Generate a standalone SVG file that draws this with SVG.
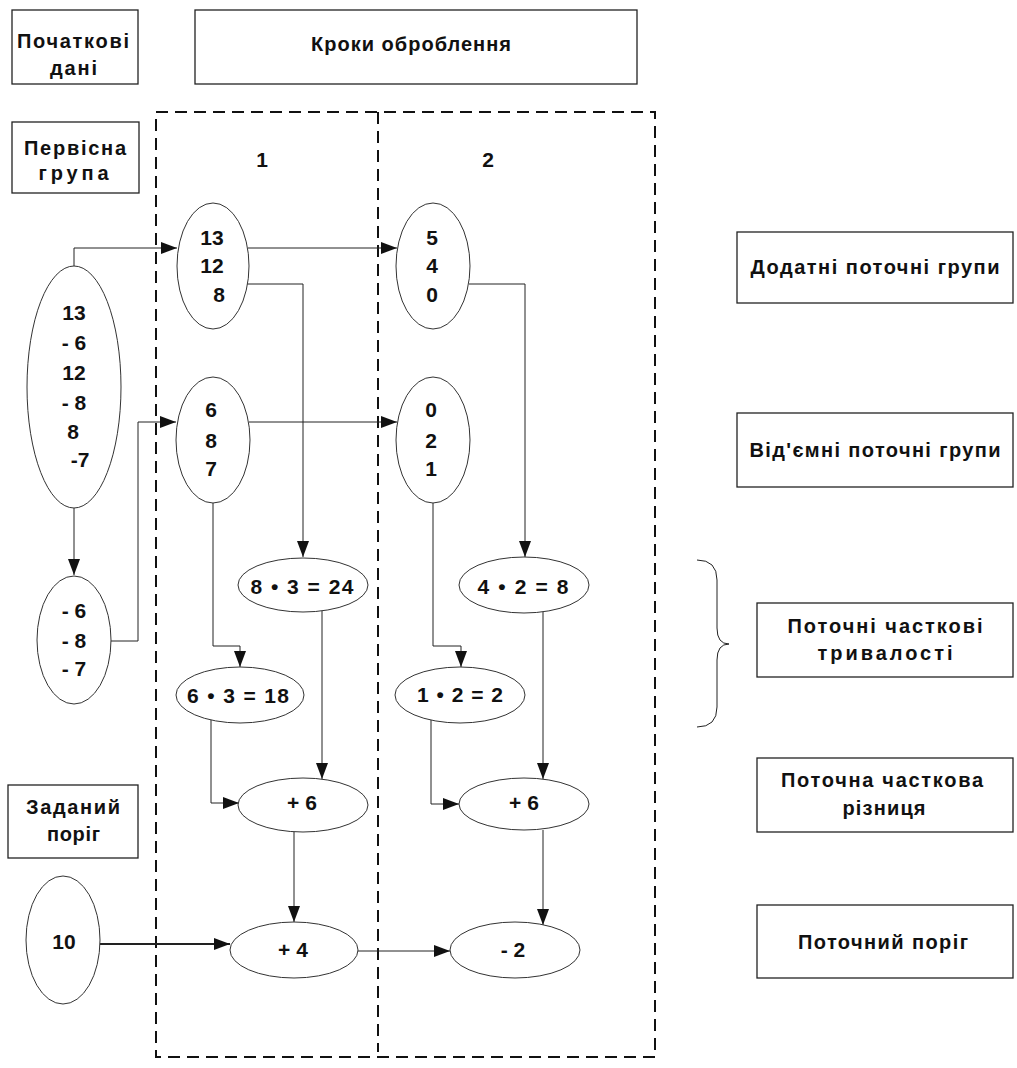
<svg xmlns="http://www.w3.org/2000/svg" width="1017" height="1068" viewBox="0 0 1017 1068">
<style>
.box{fill:#fff;stroke:#222;stroke-width:1.3}
.ell{fill:#fff;stroke:#333;stroke-width:1}
.t{font-family:"Liberation Sans",Arial,sans-serif;font-weight:bold;font-size:20px;fill:#111;text-anchor:middle}
.n{font-family:"Liberation Sans",Arial,sans-serif;font-weight:bold;font-size:21px;fill:#111;text-anchor:middle}
.c{fill:none;stroke:#222;stroke-width:1}
.thick{stroke-width:2.2}
.dash{fill:none;stroke:#111;stroke-width:2;stroke-dasharray:12 7}
</style>
<defs>
<marker id="ah" markerUnits="userSpaceOnUse" markerWidth="17" markerHeight="13" refX="16" refY="6" orient="auto">
<path d="M0,0 L16,6 L0,12 z" fill="#111"/>
</marker>
</defs>
<rect width="1017" height="1068" fill="#fff"/>

<g id="steps-frame">
<rect class="dash" x="156" y="112" width="499" height="945"/>
<line class="dash" x1="378" y1="112" x2="378" y2="1052"/>
<text class="n" x="262" y="167">1</text>
<text class="n" x="488" y="167">2</text>
</g>

<g id="connectors">
<path class="c" d="M74,266 V248 H177" marker-end="url(#ah)"/>
<path class="c" d="M248,248 H397" marker-end="url(#ah)"/>
<path class="c" d="M247,284 H303 V557" marker-end="url(#ah)"/>
<path class="c" d="M469,284 H525 V557" marker-end="url(#ah)"/>
<path class="c" d="M249,422 H397" marker-end="url(#ah)"/>
<path class="c" d="M74,508 V575" marker-end="url(#ah)"/>
<path class="c" d="M111,641 H138 V422 H176" marker-end="url(#ah)"/>
<path class="c" d="M213,503 V646 H240 V667" marker-end="url(#ah)"/>
<path class="c" d="M322,611 V779" marker-end="url(#ah)"/>
<path class="c" d="M211,720 V803 H239" marker-end="url(#ah)"/>
<path class="c" d="M433,503 V646 H461 V667" marker-end="url(#ah)"/>
<path class="c" d="M543,612 V779" marker-end="url(#ah)"/>
<path class="c" d="M431,720 V804 H459" marker-end="url(#ah)"/>
<path class="c" d="M294,832 V922" marker-end="url(#ah)"/>
<path class="c" d="M543,830 V925" marker-end="url(#ah)"/>
<path class="c thick" d="M100,944 H230" marker-end="url(#ah)"/>
<path class="c" d="M358,951 H450" marker-end="url(#ah)"/>
<path class="c" d="M697,560 Q717,560 717,580 L717,628 Q717,644 729,644 Q717,644 717,660 L717,707 Q717,727 697,727"/>
</g>

<g id="lbl-initial-data">
<rect class="box" x="12" y="10" width="126" height="74"/>
<text class="t" x="73" y="48" textLength="112" lengthAdjust="spacing">Початкові</text>
<text class="t" x="73.5" y="75" textLength="47" lengthAdjust="spacing">дані</text>
</g>
<g id="lbl-steps">
<rect class="box" x="195" y="10" width="442" height="74"/>
<text class="t" x="411" y="51" textLength="200" lengthAdjust="spacing">Кроки оброблення</text>
</g>
<g id="lbl-primary-group">
<rect class="box" x="12" y="122" width="127" height="71"/>
<text class="t" x="75" y="155" textLength="102" lengthAdjust="spacing">Первісна</text>
<text class="t" x="73.5" y="180" textLength="70" lengthAdjust="spacing">група</text>
</g>
<g id="lbl-threshold">
<rect class="box" x="8" y="785" width="130" height="73"/>
<text class="t" x="73" y="814" textLength="94" lengthAdjust="spacing">Заданий</text>
<text class="t" x="73.5" y="841" textLength="53" lengthAdjust="spacing">поріг</text>
</g>
<g id="lbl-positive">
<rect class="box" x="737" y="232" width="276" height="71"/>
<text class="t" x="875" y="274" textLength="249" lengthAdjust="spacing">Додатні поточні групи</text>
</g>
<g id="lbl-negative">
<rect class="box" x="737" y="413" width="276" height="74"/>
<text class="t" x="875" y="457" textLength="251" lengthAdjust="spacing">Від'ємні поточні групи</text>
</g>
<g id="lbl-durations">
<rect class="box" x="757" y="603" width="256" height="74"/>
<text class="t" x="885" y="633" textLength="195" lengthAdjust="spacing">Поточні часткові</text>
<text class="t" x="885" y="660" textLength="135" lengthAdjust="spacing">тривалості</text>
</g>
<g id="lbl-difference">
<rect class="box" x="757" y="758" width="256" height="74"/>
<text class="t" x="882" y="787" textLength="202" lengthAdjust="spacing">Поточна часткова</text>
<text class="t" x="884" y="815" textLength="83" lengthAdjust="spacing">різниця</text>
</g>
<g id="lbl-current-threshold">
<rect class="box" x="757" y="905" width="256" height="73"/>
<text class="t" x="883" y="949" textLength="170" lengthAdjust="spacing">Поточний поріг</text>
</g>

<g id="n-initial">
<ellipse class="ell" cx="74" cy="387" rx="47" ry="121"/>
<text class="n" x="74" y="320">13</text>
<text class="n" x="74" y="350">- 6</text>
<text class="n" x="74" y="380">12</text>
<text class="n" x="74" y="410">- 8</text>
<text class="n" x="73" y="439">8</text>
<text class="n" x="80" y="467">-7</text>
</g>
<g id="n-neg-initial">
<ellipse class="ell" cx="74" cy="640" rx="37" ry="64"/>
<text class="n" x="74" y="618">- 6</text>
<text class="n" x="74" y="648">- 8</text>
<text class="n" x="74" y="676">- 7</text>
</g>
<g id="n-pos1">
<ellipse class="ell" cx="213" cy="266" rx="36" ry="63"/>
<text class="n" x="212" y="245">13</text>
<text class="n" x="212" y="273">12</text>
<text class="n" x="219" y="302">8</text>
</g>
<g id="n-pos2">
<ellipse class="ell" cx="433" cy="266" rx="37" ry="63"/>
<text class="n" x="432" y="245">5</text>
<text class="n" x="432" y="273">4</text>
<text class="n" x="432" y="302">0</text>
</g>
<g id="n-neg1">
<ellipse class="ell" cx="213" cy="440" rx="37" ry="63"/>
<text class="n" x="211" y="417">6</text>
<text class="n" x="211" y="448">8</text>
<text class="n" x="211" y="476">7</text>
</g>
<g id="n-neg2">
<ellipse class="ell" cx="433" cy="440" rx="37" ry="63"/>
<text class="n" x="431" y="417">0</text>
<text class="n" x="431" y="448">2</text>
<text class="n" x="431" y="476">1</text>
</g>
<g id="n-dur-pos1">
<ellipse class="ell" cx="303" cy="585" rx="65" ry="27"/>
<text class="n" x="302" y="594" textLength="103" lengthAdjust="spacing">8 • 3 = 24</text>
</g>
<g id="n-dur-pos2">
<ellipse class="ell" cx="524" cy="585" rx="65" ry="28"/>
<text class="n" x="523" y="594" textLength="91" lengthAdjust="spacing">4 • 2 = 8</text>
</g>
<g id="n-dur-neg1">
<ellipse class="ell" cx="240" cy="695" rx="64" ry="28"/>
<text class="n" x="238" y="703" textLength="102" lengthAdjust="spacing">6 • 3 = 18</text>
</g>
<g id="n-dur-neg2">
<ellipse class="ell" cx="460" cy="695" rx="65" ry="28"/>
<text class="n" x="460" y="702" textLength="86" lengthAdjust="spacing">1 • 2 = 2</text>
</g>
<g id="n-diff1">
<ellipse class="ell" cx="303" cy="805" rx="65" ry="27"/>
<text class="n" x="302" y="810">+ 6</text>
</g>
<g id="n-diff2">
<ellipse class="ell" cx="524" cy="804" rx="65" ry="26"/>
<text class="n" x="524" y="810">+ 6</text>
</g>
<g id="n-threshold">
<ellipse class="ell" cx="63" cy="940" rx="37" ry="64"/>
<text class="n" x="64" y="949">10</text>
</g>
<g id="n-thr1">
<ellipse class="ell" cx="294" cy="950" rx="64" ry="28"/>
<text class="n" x="293" y="957">+ 4</text>
</g>
<g id="n-thr2">
<ellipse class="ell" cx="515" cy="950" rx="65" ry="28"/>
<text class="n" x="513" y="957">- 2</text>
</g>
</svg>
